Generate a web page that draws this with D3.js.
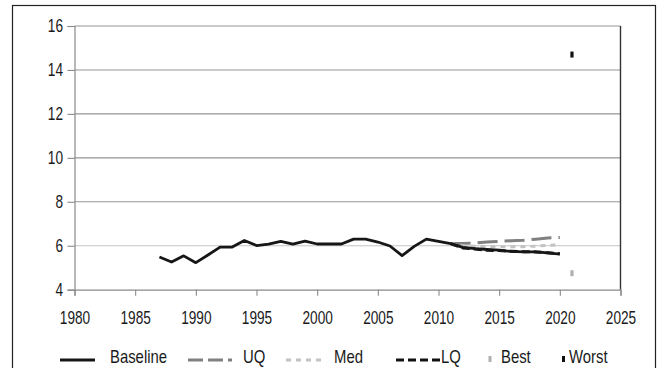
<!DOCTYPE html>
<html>
<head>
<meta charset="utf-8">
<script src="https://cdn.jsdelivr.net/npm/d3@7"></script>
<style>
  html, body { margin: 0; padding: 0; background: #fff; }
  svg { display: block; }
  text { font-family: 'Liberation Sans', Arial, sans-serif; fill: #1a1a1a; }
</style>
</head>
<body>
<svg id="chart" width="665" height="368"></svg>
<script>
// Observed baseline and projection quartiles, by year
const baselineYears = [1987,1988,1989,1990,1991,1992,1993,1994,1995,1996,1997,1998,1999,2000,2001,2002,2003,2004,2005,2006,2007,2008,2009,2010,2011,2012,2013,2014,2015,2016,2017,2018,2019,2020];
const baselineValues = [5.49,5.26,5.54,5.23,5.58,5.94,5.94,6.24,6.01,6.07,6.20,6.07,6.21,6.08,6.08,6.08,6.30,6.30,6.17,5.99,5.55,5.97,6.30,6.20,6.10,5.93,5.87,5.83,5.80,5.74,5.72,5.72,5.68,5.62];

const projYears = [2011,2012,2013,2014,2015,2016,2017,2018,2019,2020];
const uqValues  = [6.10,6.10,6.13,6.17,6.20,6.23,6.25,6.30,6.35,6.38];
const medValues = [6.10,6.00,5.98,5.97,5.96,5.95,5.96,5.98,6.02,6.05];
const lqValues  = [6.10,5.90,5.85,5.79,5.78,5.75,5.73,5.72,5.68,5.64];

const scenarioYear = 2021;
const bestValue = 4.75;
const worstValue = 14.7;

const xTicks = [1980,1985,1990,1995,2000,2005,2010,2015,2020,2025];
const yTicks = [4,6,8,10,12,14,16];

const svg = d3.select("#chart");

// narrow the glyphs horizontally around each label's own anchor point
function condense(sel, k) {
  sel.each(function () {
    const t = d3.select(this);
    const ax = +t.attr("x") || 0;
    t.attr("transform", `translate(${ax},0) scale(${k},1) translate(${-ax},0)`);
  });
}

// chart frame
svg.append("rect").attr("x", 0).attr("y", 0).attr("width", 665).attr("height", 368).attr("fill", "#fff");
svg.append("rect")
  .attr("x", 12.5).attr("y", 5.5).attr("width", 643).attr("height", 400)
  .attr("fill", "none").attr("stroke", "#222").attr("stroke-width", 1.2);

const x = d3.scaleLinear().domain([1980, 2025]).range([74.5, 620.5]);
const y = d3.scaleLinear().domain([4, 16]).range([289.7, 26]);

// horizontal gridlines
svg.append("g").selectAll("line")
  .data(yTicks.filter(v => v > 4))
  .join("line")
  .attr("x1", x(1980)).attr("x2", x(2025))
  .attr("y1", d => y(d)).attr("y2", d => y(d))
  .attr("stroke", d => d === 6 ? "#c4c4c4" : "#959595")
  .attr("stroke-width", 1.1);

// right edge of the plot area
svg.append("line")
  .attr("x1", x(2025)).attr("x2", x(2025))
  .attr("y1", y(16)).attr("y2", y(4))
  .attr("stroke", "#333").attr("stroke-width", 1.4);

// y axis
const yAxis = d3.axisLeft(y).tickValues(yTicks).tickSize(7).tickPadding(4.5).tickFormat(d3.format("d"));
const gy = svg.append("g").attr("transform", `translate(${x(1980)},0)`).call(yAxis);
gy.attr("font-family", null).attr("font-size", null);
gy.select(".domain").attr("stroke", "#8a8a8a").attr("stroke-width", 1.2);
gy.selectAll(".tick line").attr("stroke", "#8a8a8a").attr("stroke-width", 1.1);
gy.selectAll(".tick text").style("font-size", "17.5px").attr("fill", "#1a1a1a").call(condense, 0.78);

// x axis
const xAxis = d3.axisBottom(x).tickValues(xTicks).tickSize(6).tickPadding(16).tickFormat(d3.format("d"));
const gx = svg.append("g").attr("transform", `translate(0,${y(4)})`).call(xAxis);
gx.attr("font-family", null).attr("font-size", null);
gx.select(".domain").attr("stroke", "#8a8a8a").attr("stroke-width", 1.2);
gx.selectAll(".tick line").attr("stroke", "#8a8a8a").attr("stroke-width", 1.1);
gx.selectAll(".tick text").style("font-size", "17.5px").attr("fill", "#1a1a1a").call(condense, 0.78);

const line = d3.line().x(d => x(d[0])).y(d => y(d[1]));
const zip = (a, b) => a.map((v, i) => [v, b[i]]);

const series = [
  { name: "UQ",  data: zip(projYears, uqValues),  color: "#808080", width: 3, dash: "20,7" },
  { name: "Med", data: zip(projYears, medValues), color: "#c2c2c2", width: 3, dash: "5,5" },
  { name: "LQ",  data: zip(projYears, lqValues),  color: "#111",    width: 3, dash: "8,4" },
  { name: "Baseline", data: zip(baselineYears, baselineValues), color: "#161616", width: 2.8, dash: null }
];

svg.append("g").selectAll("path")
  .data(series)
  .join("path")
  .attr("d", d => line(d.data))
  .attr("fill", "none")
  .attr("stroke", d => d.color)
  .attr("stroke-width", d => d.width)
  .attr("stroke-dasharray", d => d.dash)
  .attr("stroke-linejoin", "round");

// scenario end points
const points = [
  { name: "Best",  value: bestValue,  color: "#b0b0b0" },
  { name: "Worst", value: worstValue, color: "#111" }
];
svg.append("g").selectAll("rect")
  .data(points)
  .join("rect")
  .attr("x", x(scenarioYear) - 1.6).attr("y", d => y(d.value) - 3)
  .attr("width", 3.2).attr("height", 6)
  .attr("fill", d => d.color);

// legend
const legendY = 360;
const legend = svg.append("g");
const legendItems = [
  { label: "Baseline", kind: "line", color: "#161616", dash: null,   x0: 60,  x1: 95,  tx: 110 },
  { label: "UQ",       kind: "line", color: "#808080", dash: "15,5", x0: 188, x1: 232, tx: 243 },
  { label: "Med",      kind: "line", color: "#c2c2c2", dash: "5,5",  x0: 286, x1: 325, tx: 334 },
  { label: "LQ",       kind: "line", color: "#111",    dash: "8,4",  x0: 396, x1: 440, tx: 441 },
  { label: "Best",     kind: "mark", color: "#b0b0b0", x0: 490, tx: 501 },
  { label: "Worst",    kind: "mark", color: "#111",    x0: 563.5, tx: 569 }
];
legendItems.forEach(it => {
  if (it.kind === "line") {
    legend.append("line")
      .attr("x1", it.x0).attr("x2", it.x1)
      .attr("y1", legendY).attr("y2", legendY)
      .attr("stroke", it.color).attr("stroke-width", 3)
      .attr("stroke-dasharray", it.dash);
  } else {
    legend.append("rect")
      .attr("x", it.x0 - 1.5).attr("y", legendY - 4)
      .attr("width", 3).attr("height", 6)
      .attr("fill", it.color);
  }
  legend.append("text")
    .attr("x", it.tx).attr("y", legendY + 3.5)
    .style("font-size", "17.5px")
    .text(it.label)
    .call(condense, 0.85);
});
</script>
</body>
</html>
